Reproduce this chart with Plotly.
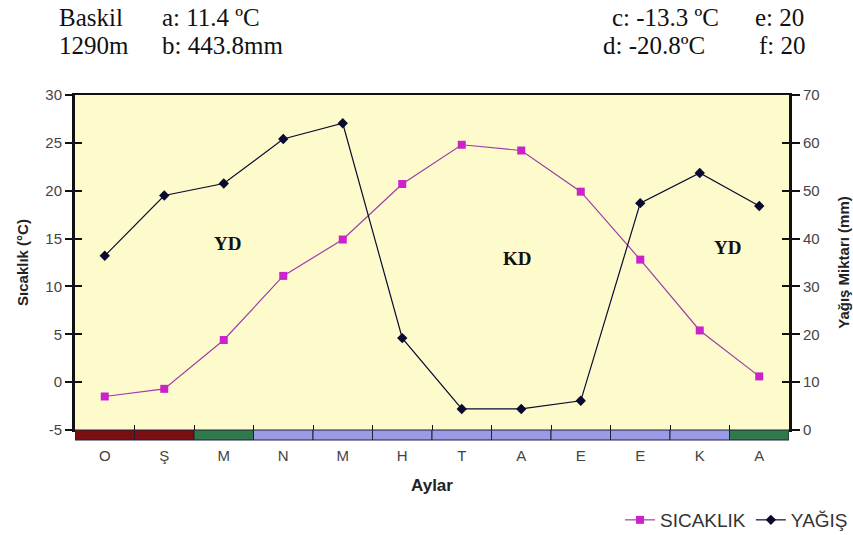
import plotly.graph_objects as go

months = ["O", "Ş", "M", "N", "M", "H", "T", "A", "E", "E", "K", "A"]
temperature = [-1.5, -0.7, 4.4, 11.1, 14.9, 20.7, 24.8, 24.2, 19.9, 12.8, 5.4, 0.6]
precipitation = [36.4, 49.0, 51.5, 60.8, 64.1, 19.2, 4.4, 4.4, 6.1, 47.4, 53.7, 46.8]
strip_colors = ["#7a0f12", "#7a0f12", "#2f7a4c", "#9a9ae6", "#9a9ae6", "#9a9ae6",
                "#9a9ae6", "#9a9ae6", "#9a9ae6", "#9a9ae6", "#9a9ae6", "#2f7a4c"]
period_labels = [("YD", 2.07, 14.5), ("KD", 6.93, 12.9), ("YD", 10.46, 14.1)]
temp_ticks = [-5, 0, 5, 10, 15, 20, 25, 30]
prec_ticks = [0, 10, 20, 30, 40, 50, 60, 70]
header = [("Baskil", 57, 18), ("1290m", 57, 46), ("a: 11.4 ºC", 160, 18),
          ("b: 443.8mm", 160, 46), ("c: -13.3 ºC", 610, 18),
          ("d: -20.8ºC", 601, 46), ("e: 20", 753, 18), ("f: 20", 757, 46)]

W, H = 853, 535
L, R, T, B = 75, 64, 95, 105
ph = H - T - B
pw = W - L - R

idx = list(range(len(months)))
bounds = [i + 0.5 for i in range(len(months) - 1)]

fig = go.Figure()
fig.add_trace(go.Scatter(
    x=idx, y=temperature, name="SICAKLIK", mode="lines+markers",
    line=dict(color="#a03ca8", width=1.2),
    marker=dict(symbol="square", size=8, color="#cc22cc"),
    yaxis="y", xaxis="x"))
fig.add_trace(go.Scatter(
    x=idx, y=precipitation, name="YAĞIŞ", mode="lines+markers",
    line=dict(color="#0a0a30", width=1.2),
    marker=dict(symbol="diamond", size=8, color="#0a0a30"),
    yaxis="y2", xaxis="x"))
fig.add_trace(go.Scatter(x=[None], y=[None], xaxis="x2", yaxis="y3", showlegend=False, hoverinfo="skip"))
fig.add_trace(go.Scatter(x=[None], y=[None], xaxis="x", yaxis="y4", showlegend=False, hoverinfo="skip"))

# colored strip under the x axis
for i, c in enumerate(strip_colors):
    fig.add_shape(type="rect", xref="x", yref="paper",
                  x0=i - 0.5, x1=i + 0.5, y0=-10 / ph, y1=0,
                  fillcolor=c, line=dict(color="#20203a", width=1), layer="above")

for text, xv, yv in period_labels:
    fig.add_annotation(x=xv, y=yv, xref="x", yref="y", text=f"<b>{text}</b>",
                       showarrow=False,
                       font=dict(family="Liberation Serif", size=19, color="#111"))

hdr = dict(family="Liberation Serif", size=25, color="#111")
for txt, px, py in header:
    fig.add_annotation(x=(px - L) / pw, y=(H - B - py) / ph, xref="paper", yref="paper",
                       text=txt, showarrow=False, xanchor="left", yanchor="middle",
                       font=hdr)

axis_font = dict(family="Liberation Sans", size=15, color="#444")
fig.update_layout(
    width=W, height=H,
    margin=dict(l=L, r=R, t=T, b=B, autoexpand=False),
    paper_bgcolor="white",
    plot_bgcolor="#fdfbcc",
    showlegend=True,
    legend=dict(orientation="h", x=(853 - L) / pw, xanchor="right", y=(430 - 520) / ph,
                yanchor="middle", font=dict(family="Liberation Sans", size=19, color="#333"),
                bgcolor="rgba(0,0,0,0)", tracegroupgap=0),
    xaxis=dict(range=[-0.5, len(months) - 0.5], tickvals=bounds, ticktext=[""] * len(bounds),
               ticks="inside", ticklen=5, tickcolor="#111", tickwidth=1,
               showgrid=False, zeroline=False, showline=True, linecolor="#111",
               linewidth=2, mirror=True, automargin=False),
    xaxis2=dict(range=[-0.5, len(months) - 0.5], overlaying="x", side="bottom",
                anchor="y", tickvals=idx, ticktext=months, ticks="", showgrid=False,
                zeroline=False, showline=False, ticklabelstandoff=15,
                tickfont=axis_font, automargin=False,
                title=dict(text="<b>Aylar</b>", standoff=16,
                           font=dict(family="Liberation Sans", size=17, color="#222"))),
    yaxis=dict(range=[-5, 30], tickvals=temp_ticks, ticktext=[str(v) for v in temp_ticks],
               ticks="outside", ticklen=7,
               tickwidth=2, tickcolor="#111", showgrid=False, zeroline=False,
               showline=True, linecolor="#111", linewidth=3, tickfont=axis_font,
               automargin=False,
               title=dict(text="<b>Sıcaklık (°C)</b>", standoff=14,
                          font=dict(family="Liberation Sans", size=15, color="#222"))),
    yaxis3=dict(range=[-5, 30], overlaying="y", side="left", anchor="x", tickvals=temp_ticks,
                ticks="inside", ticklen=7, tickwidth=2, tickcolor="#111",
                showticklabels=False, showgrid=False, zeroline=False, showline=False,
                automargin=False),
    yaxis2=dict(range=[0, 70], overlaying="y", side="right", anchor="x", tickvals=prec_ticks,
                ticks="outside", ticklen=8, tickwidth=2, tickcolor="#111",
                showgrid=False, zeroline=False, showline=True, linecolor="#111",
                linewidth=3, tickfont=axis_font, automargin=False,
                title=dict(text="<b>Yağış Miktarı (mm)</b>", standoff=20,
                           font=dict(family="Liberation Sans", size=15, color="#222"))),
    yaxis4=dict(range=[0, 70], overlaying="y", side="right", anchor="x", tickvals=prec_ticks,
                ticks="inside", ticklen=7, tickwidth=2, tickcolor="#111",
                showticklabels=False, showgrid=False, zeroline=False, showline=False,
                automargin=False),
)

fig.write_html("out.html")
